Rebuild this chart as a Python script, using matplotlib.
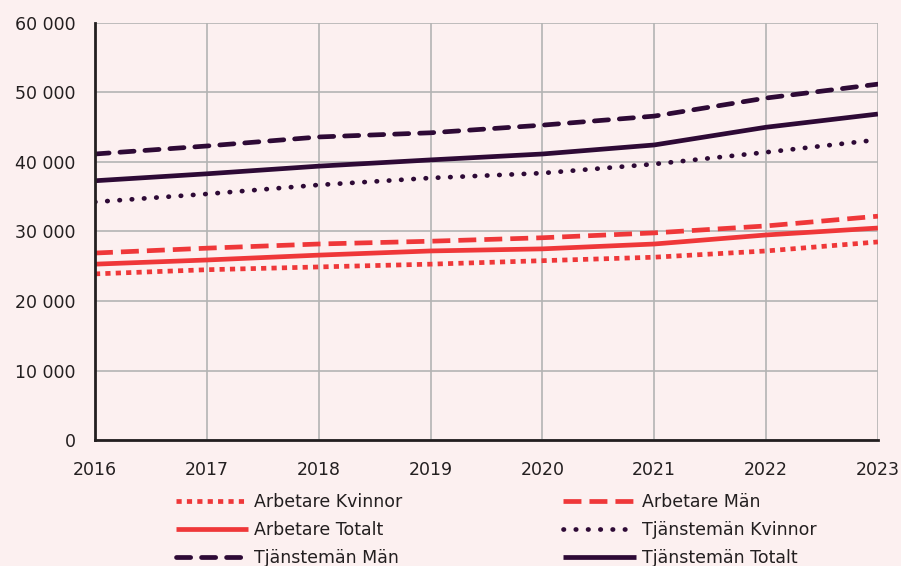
import matplotlib
matplotlib.use("Agg")
import matplotlib.pyplot as plt
from matplotlib.ticker import FuncFormatter

years = [2016, 2017, 2018, 2019, 2020, 2021, 2022, 2023]

arb_kvinnor = [23900, 24500, 24900, 25300, 25800, 26300, 27200, 28500]
arb_man = [26900, 27600, 28200, 28600, 29100, 29800, 30800, 32200]
arb_totalt = [25300, 25900, 26600, 27200, 27500, 28200, 29500, 30500]
tj_kvinnor = [34250, 35400, 36700, 37700, 38400, 39700, 41400, 43200]
tj_man = [41150, 42300, 43600, 44200, 45300, 46600, 49200, 51200]
tj_totalt = [37300, 38300, 39400, 40300, 41150, 42450, 45000, 46900]

bg = "#fcf0f0"
red = "#ef3739"
dark = "#2e0a36"
txt = "#231f20"

plt.rcParams["font.family"] = ["DejaVu Sans"]

fig = plt.figure(figsize=(9.01, 5.66), dpi=100, facecolor=bg)
ax = fig.add_axes([0.1054, 0.2226, 0.869, 0.7368], facecolor=bg)

lw = 3.4
ax.plot(years, arb_kvinnor, color=red, lw=lw, linestyle=(0, (1.1, 1.1)),
        dash_capstyle="butt", label="Arbetare Kvinnor")
ax.plot(years, arb_man, color=red, lw=lw, linestyle=(0, (3.8, 1.7)),
        dash_capstyle="butt", label="Arbetare Män")
ax.plot(years, arb_totalt, color=red, lw=lw, solid_capstyle="butt", label="Arbetare Totalt")
ax.plot(years, tj_kvinnor, color=dark, lw=lw, linestyle=(0, (0.1, 2.5)),
        dash_capstyle="round", label="Tjänstemän Kvinnor")
ax.plot(years, tj_man, color=dark, lw=lw, linestyle=(0, (3.0, 2.3)),
        dash_capstyle="round", label="Tjänstemän Män")
ax.plot(years, tj_totalt, color=dark, lw=lw, solid_capstyle="butt", label="Tjänstemän Totalt")

ax.set_xlim(2016, 2023)
ax.set_ylim(0, 60000)
ax.set_xticks(years)
ax.set_yticks(range(0, 60001, 10000))
ax.yaxis.set_major_formatter(FuncFormatter(lambda v, p: f"{int(v):,}".replace(",", " ")))
ax.grid(True, color="#b3b3b3", lw=1.2)
ax.set_axisbelow(True)
for s in ["top", "right"]:
    ax.spines[s].set_visible(False)
for s in ["left", "bottom"]:
    ax.spines[s].set_color(txt)
    ax.spines[s].set_linewidth(2)
ax.tick_params(length=0, labelsize=12.5, colors=txt, pad=14)
ax.tick_params(axis="x", pad=15)

handles, labels = ax.get_legend_handles_labels()
order = [0, 2, 4, 1, 3, 5]
fig.legend([handles[i] for i in order], [labels[i] for i in order],
           loc="upper left", bbox_to_anchor=(0.1853, 0.145), ncol=2,
           frameon=False, fontsize=12.5, handlelength=4.15, handletextpad=0.35,
           columnspacing=9.3, labelspacing=0.6, borderpad=0, labelcolor=txt)

fig.savefig("out.png", dpi=100, facecolor=bg)
